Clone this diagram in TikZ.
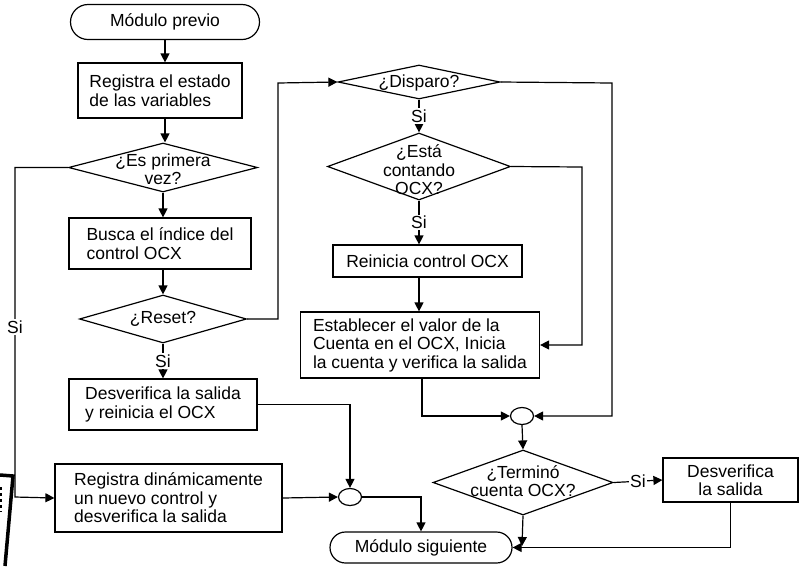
\documentclass[tikz,border=0pt]{standalone}
\usepackage{fontspec}
\setmainfont{Liberation Sans}
\usetikzlibrary{shapes.geometric,arrows.meta}
\begin{document}
\begin{tikzpicture}[x=1pt,y=-1pt,
  every node/.style={font=\fontsize{17.5}{18.5}\selectfont},
  arr/.style={line width=1.2pt,-{Triangle[length=9pt,width=9pt]}},
  plain/.style={line width=1.2pt},
  box/.style={draw,line width=1.2pt,inner sep=0pt,align=left},
  term/.style={draw,line width=1.2pt,inner sep=0pt},
  dec/.style={draw,diamond,line width=1.2pt,inner sep=0pt},
  dtext/.style={align=center,inner sep=0pt},
  joint/.style={draw,ellipse,line width=1.2pt,minimum width=23pt,minimum height=17pt,inner sep=0pt},
  lab/.style={fill=white,inner sep=1.5pt}
]
\useasboundingbox (0,0) rectangle (800,566);

% left column
\node[term,rounded corners=17.5pt,minimum width=189pt,minimum height=35pt] (prev) at (165,22) {Módulo previo};
\node[box,minimum width=164pt,minimum height=55pt] (reg) at (160,90.5) {Registra el estado\\de las variables};
\node[dec,minimum width=189pt,minimum height=49pt] (es) at (163,167.5) {};
\node[dtext] (esT) at (163,169) {¿Es primera\\vez?};
\node[box,minimum width=182pt,minimum height=51pt] (busca) at (160,243.5) {Busca el índice del\\control OCX};
\node[dec,minimum width=167pt,minimum height=48pt] (reset) at (163,319) {};
\node[dtext] (resetT) at (163,319) {¿Reset?};
\node[box,minimum width=188pt,minimum height=51pt] (desv1) at (163,404.5) {Desverifica la salida\\y reinicia el OCX};
\node[box,minimum width=227pt,minimum height=68pt] (regdin) at (168.5,498) {Registra dinámicamente\\un nuevo control y\\desverifica la salida};
\node[joint] (c1) at (350,497) {};
\node[term,rounded corners=15.5pt,minimum width=182pt,minimum height=31pt] (ms) at (421,547.5) {Módulo siguiente};

% right column
\node[dec,minimum width=162pt,minimum height=34pt] (disp) at (419,82) {};
\node[dtext] (dispT) at (419,83) {¿Disparo?};
\node[dec,minimum width=183pt,minimum height=67pt] (esta) at (419,166.5) {};
\node[dtext] (estaT) at (419,170) {¿Está\\contando\\OCX?};
\node[box,minimum width=189pt,minimum height=32pt] (rein) at (427.5,261) {Reinicia control OCX};
\node[box,minimum width=239pt,minimum height=66pt] (est) at (420,345) {Establecer el valor de la\\Cuenta en el OCX, Inicia\\la cuenta y verifica la salida};
\node[joint] (c2) at (522,416) {};
\node[dec,minimum width=180pt,minimum height=65pt] (term) at (523,482.5) {};
\node[dtext] (termT) at (523,481) {¿Terminó\\cuenta OCX?};
\node[box,align=center,minimum width=135pt,minimum height=44pt] (desv2) at (730.5,480) {Desverifica\\la salida};

% bend points
\coordinate (lb) at (15,497);
\coordinate (rr) at (278,83);
\coordinate (rt) at (612,83);
\coordinate (re) at (582,167);
\coordinate (mj) at (522,546);

% connectors, left column
\draw[arr] (prev.south) -- (prev.south |- reg.north);
\draw[arr] (prev.south |- reg.south) -- (prev.south |- es.north);
\draw[arr] (es.south) -- (es.south |- busca.north);
\draw[arr] (es.south |- busca.south) -- (reset.north);
\draw[arr] (es.west) -| (lb) -- (regdin.west);
\node[lab] (siL) at (15,327) {Si};
\draw[arr] (reset.east) -| (rr) -- (disp.west);
\draw[arr] (reset.south) -- node[lab] (si1) {Si} (reset.south |- desv1.north);
\draw[arr] (desv1.east) -| (c1.north);
\draw[arr] (regdin.east) -- (c1.west);
\draw[arr] (c1.east) -| (ms.north);

% connectors, right column
\draw[arr] (disp.south) -- node[lab] (si2) {Si} (esta.north);
\draw[arr] (disp.east) -- (rt) |- (c2.east);
\draw[arr] (esta.east) -- (re) |- (est.east);
\draw[arr] (esta.south) -- node[lab] (si3) {Si} (esta.south |- rein.north);
\draw[arr] (esta.south |- rein.south) -- (esta.south |- est.north);
\draw[arr] (est.south -| 422,0) |- (c2.west);
\draw[arr] (c2.south) -- (term.north);
\draw[arr] (term.east) -- node[lab] (si4) {Si} (desv2.west);
\draw[arr] (term.south) -- (mj);
\draw[arr] (desv2.south) |- (ms.east);

% page edge mark
\draw[line width=3.5pt] (0,475) -- (13,476) -- (5,566);
\draw[line width=1.5pt,dashed] (1,487) -- (1,512);
\end{tikzpicture}
\end{document}
